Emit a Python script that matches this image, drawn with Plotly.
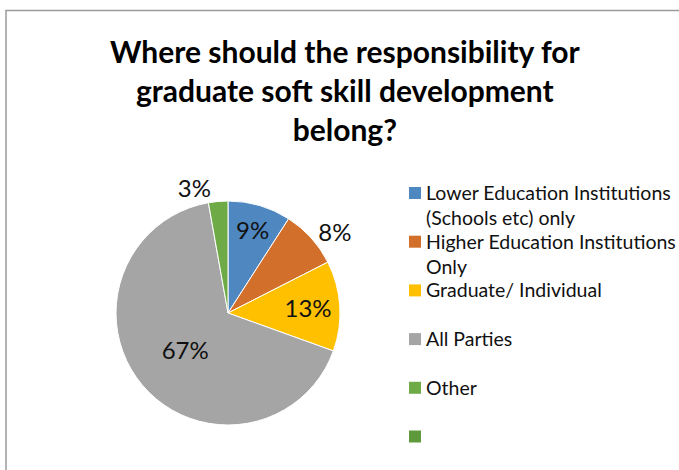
import plotly.graph_objects as go

# ---- data ----
categories = ["Lower Education Institutions (Schools etc) only",
              "Higher Education Institutions Only",
              "Graduate/ Individual",
              "All Parties",
              "Other"]
shares = [9.1, 8.4, 13.0, 66.7, 2.8]
legend_labels = ["Lower Education Institutions<br>(Schools etc) only",
                 "Higher Education Institutions<br>Only",
                 "Graduate/ Individual",
                 "All Parties",
                 "Other",
                 ""]
colors = ["#4F87C0", "#D26F2B", "#FFC000", "#A5A5A5", "#6EAB46", "#5E9A3C"]
title_text = "<b>Where should the responsibility for<br>graduate soft skill development<br>belong?</b>"

W, H = 679, 470
def px(x):
    return x / W
def py(y):
    return 1 - y / H

fig = go.Figure()
fig.add_trace(go.Pie(
    labels=categories,
    values=shares,
    sort=False,
    direction="clockwise",
    rotation=0,
    marker=dict(colors=colors[:5], line=dict(color="white", width=1)),
    texttemplate="%{percent:.0%}",
    textposition=["inside", "outside", "inside", "inside", "outside"],
    insidetextorientation="horizontal",
    textfont=dict(family="Lato", size=24, color="#111111"),
    showlegend=False,
    hoverinfo="label+percent",
    domain=dict(x=[px(116), px(340)], y=[py(425), py(201)]),
))

shapes = [dict(type="rect", xref="paper", yref="paper",
               x0=px(6), x1=px(720), y0=py(500), y1=py(10.5),
               line=dict(color="#9a9a9a", width=1.5), fillcolor="rgba(0,0,0,0)")]
annotations = [dict(text=title_text, xref="paper", yref="paper",
                    x=px(345), y=py(90), xanchor="center", yanchor="middle",
                    align="center", showarrow=False,
                    font=dict(family="Lato", size=30, color="#000000"))]
y0 = 193
step = 48.7
for i, lab in enumerate(legend_labels):
    yc = y0 + i * step
    shapes.append(dict(type="rect", xref="paper", yref="paper",
                       x0=px(409), x1=px(421), y0=py(yc + 6), y1=py(yc - 6),
                       line=dict(width=0), fillcolor=colors[i]))
    if lab:
        annotations.append(dict(text=lab, xref="paper", yref="paper",
                                x=px(424), y=py(yc - 14), xanchor="left", yanchor="top",
                                align="left", showarrow=False,
                                font=dict(family="Lato", size=19.5, color="#111111")))

fig.update_layout(
    width=W, height=H,
    margin=dict(l=0, r=0, t=0, b=0),
    paper_bgcolor="white",
    plot_bgcolor="white",
    shapes=shapes,
    annotations=annotations,
)
fig.write_html("out.html")
